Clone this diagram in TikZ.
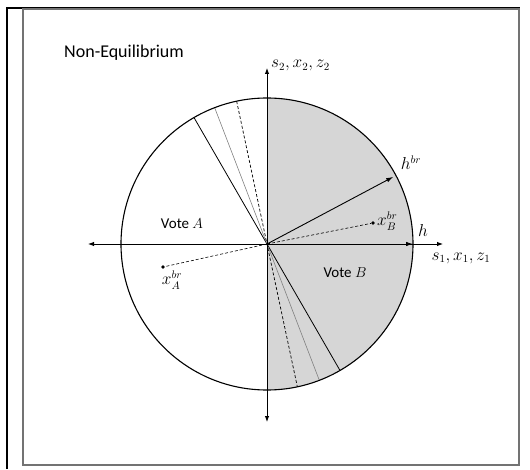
\documentclass[tikz,border=0pt]{standalone}
\usepackage{fontspec}
\setmainfont{Carlito}
\usetikzlibrary{arrows.meta,calc}
\begin{document}
\begin{tikzpicture}[x=1pt,y=1pt,
  axis/.style={line width=0.9pt,-{Latex[length=6pt,width=4.5pt]}},
  vec/.style={line width=0.9pt,-{Latex[length=7pt,width=4.5pt]}},
  dia/.style={line width=0.8pt},
  diagray/.style={line width=0.6pt,black!50},
  diadash/.style={line width=0.7pt,dash pattern=on 3pt off 2pt},
  dotp/.style={circle,fill,inner sep=1.4pt},
  lbl/.style={font=\fontsize{15}{17}\selectfont},
  mlbl/.style={font=\fontsize{16}{18}\selectfont}]
\useasboundingbox (0,0) rectangle (530,469);
% frame
\draw[line width=1.5pt] (7,0) -- (7,461) -- (520,461);
\draw[line width=1.6pt,black!55] (23,4) rectangle (519,460);
\coordinate (O) at (267,225);
\def\R{146}
% shaded half
\fill[black!16] ($(O)+(0,\R)$) arc[start angle=90,end angle=-90,radius=\R] -- cycle;
% diameters
\draw[dia] ($(O)+(120:\R)$) coordinate (d1a) -- ($(O)+(-60:\R)$) coordinate (d1b);
\draw[diagray] ($(O)+(111:\R)$) coordinate (d2a) -- ($(O)+(-69:\R)$) coordinate (d2b);
\draw[diadash] ($(O)+(102:\R)$) coordinate (d3a) -- ($(O)+(-78:\R)$) coordinate (d3b);
% circle
\draw[line width=1.1pt] (O) circle[radius=\R];
% axes
\coordinate (xl) at (88,225);
\coordinate (xr) at (443,225);
\coordinate (yb) at (267,47);
\coordinate (yt) at (267,401);
\draw[axis] (O) -- (xr);
\draw[axis] (O) -- (xl);
\draw[axis] (O) -- (yt);
\draw[axis] (O) -- (yb);
% vectors
\coordinate (hend) at ($(O)+(0:\R)$);
\draw[vec] (O) -- (hend);
\coordinate (hbr) at ($(O)+(28:143)$);
\draw[vec] (O) -- (hbr);
% best responses
\node[dotp] (xB) at (373,246) {};
\node[dotp] (xA) at (163,202) {};
\draw[diadash,line width=0.6pt] (O) -- (xB);
\draw[diadash,line width=0.6pt] (O) -- (xA);
% labels
\node[font=\fontsize{18}{20}\selectfont] (title) at (124,416) {Non-Equilibrium};
\node[mlbl,anchor=south west,inner sep=1pt] (ylab) at (270,397) {$s_2,x_2,z_2$};
\node[mlbl] (xlab) at (461,211) {$s_1,x_1,z_1$};
\node[mlbl] (hlab) at (423,238) {$h$};
\node[mlbl] (hbrlab) at (411,306) {$h^{br}$};
\node[mlbl,anchor=west,inner sep=1pt] (xBlab) at (376,248) {$x_B^{br}$};
\node[mlbl] (xAlab) at (172,189) {$x_A^{br}$};
\node[lbl] (voteA) at (182,245) {Vote $A$};
\node[lbl] (voteB) at (345,196) {Vote $B$};
\end{tikzpicture}
\end{document}
